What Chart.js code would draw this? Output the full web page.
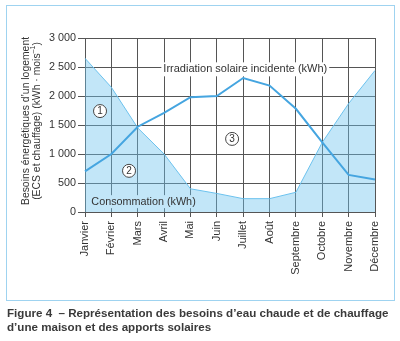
<!DOCTYPE html>
<html lang="fr">
<head>
<meta charset="utf-8">
<script src="https://cdn.jsdelivr.net/npm/chart.js@4"></script>
<style>
  body { margin: 0; background: #fff; }
  #wrap { position: relative; width: 400px; height: 341px; }
  #frame { position: absolute; left: 6px; top: 5px; width: 387px; height: 294px; border: 1px solid #9fd3f0; }
  #chart { position: absolute; left: 0; top: 0; }
  #caption {
    position: absolute; left: 7px; top: 306px; width: 393px;
    font: bold 11.6px "Liberation Sans", Arial, sans-serif; line-height: 14px; color: #3a3a3a;
  }
</style>
</head>
<body>
<div id="wrap">
  <div id="frame"></div>
  <canvas id="chart" width="400" height="341"></canvas>
  <div id="caption">Figure 4 &nbsp;– Représentation des besoins d’eau chaude et de chauffage<br>d’une maison et des apports solaires</div>
</div>
<script>
// Monthly data (kWh)
const months = ['Janvier', 'Février', 'Mars', 'Avril', 'Mai', 'Juin', 'Juillet', 'Août', 'Septembre', 'Octobre', 'Novembre', 'Décembre'];
const consommation = [2650, 2150, 1450, 1000, 400, 320, 230, 230, 340, 1200, 1870, 2440];
const irradiation = [700, 1000, 1470, 1710, 1980, 2000, 2310, 2180, 1780, 1200, 640, 560];
const yTicks = [0, 500, 1000, 1500, 2000, 2500, 3000];

const FONT = '"Liberation Sans", Arial, sans-serif';
const TEXT = '#333333';
const GRID = '#555555';
const FILL = 'rgba(110, 195, 238, 0.42)';

function formatThousands(v) {
    return String(v).replace(/\B(?=(\d{3})+(?!\d))/g, ' ');
}

// Labels, circled zone numbers and the y-axis title
const annotations = {
    id: 'annotations',
    beforeDatasetsDraw(chart) {
        const { ctx, scales: { x, y } } = chart;
        ctx.save();
        ctx.textBaseline = 'middle';
        ctx.textAlign = 'center';

        // solar irradiation label, white box over the grid
        ctx.font = '11px ' + FONT;
        const t1 = 'Irradiation solaire incidente (kWh)';
        const cx1 = x.getPixelForValue(6.08), cy1 = y.getPixelForValue(2460);
        const w1 = ctx.measureText(t1).width;
        ctx.fillStyle = '#ffffff';
        ctx.fillRect(cx1 - w1 / 2 - 2, cy1 - 7, w1 + 4, 14);
        ctx.fillStyle = TEXT;
        ctx.fillText(t1, cx1, cy1);

        // blank the grid behind the consumption label; the area fill goes over it
        ctx.font = '10.8px ' + FONT;
        const cx2 = x.getPixelForValue(2.22), cy2 = y.getPixelForValue(170);
        const w2 = ctx.measureText('Consommation (kWh)').width;
        ctx.fillStyle = '#ffffff';
        ctx.fillRect(cx2 - w2 / 2 - 2, cy2 - 7, w2 + 4, 13);
        ctx.restore();
    },
    afterDatasetsDraw(chart) {
        const { ctx, scales: { x, y } } = chart;
        ctx.save();
        ctx.textAlign = 'center';
        ctx.textBaseline = 'middle';

        ctx.font = '10.8px ' + FONT;
        ctx.fillStyle = TEXT;
        ctx.fillText('Consommation (kWh)', x.getPixelForValue(2.22), y.getPixelForValue(170));

        const zones = [['1', 0.57, 1740], ['2', 1.67, 710], ['3', 5.58, 1260]];
        ctx.font = '10px ' + FONT;
        zones.forEach(([n, xv, yv]) => {
            const px = x.getPixelForValue(xv), py = y.getPixelForValue(yv);
            ctx.beginPath();
            ctx.arc(px, py, 6.5, 0, Math.PI * 2);
            ctx.fillStyle = '#ffffff';
            ctx.fill();
            ctx.lineWidth = 1;
            ctx.strokeStyle = '#444';
            ctx.stroke();
            ctx.fillStyle = TEXT;
            ctx.fillText(n, px, py + 0.5);
        });

        // y-axis title, two rotated lines
        const midY = (y.top + y.bottom) / 2 - 4;
        ctx.translate(26, midY);
        ctx.rotate(-Math.PI / 2);
        ctx.font = '10.4px ' + FONT;
        ctx.fillStyle = TEXT;
        ctx.fillText('Besoins énergétiques d’un logement', 0, 0);
        const a = '(ECS et chauffage) (kWh · mois', sup = '–1', b = ')';
        const wa = ctx.measureText(a).width, wb = ctx.measureText(b).width;
        ctx.font = '7px ' + FONT;
        const ws = ctx.measureText(sup).width;
        const start = -(wa + ws + wb) / 2;
        ctx.textAlign = 'left';
        ctx.font = '10.4px ' + FONT;
        ctx.fillText(a, start, 11);
        ctx.font = '7px ' + FONT;
        ctx.fillText(sup, start + wa, 7);
        ctx.font = '10.4px ' + FONT;
        ctx.fillText(b, start + wa + ws, 11);
        ctx.restore();
    }
};

new Chart(document.getElementById('chart').getContext('2d'), {
    type: 'line',
    data: {
        labels: months,
        datasets: [{
            label: 'Irradiation solaire incidente (kWh)',
            data: irradiation,
            borderColor: '#45a5e0',
            borderWidth: 2,
            pointRadius: 0,
            tension: 0,
            fill: false,
            order: 1
        }, {
            label: 'Consommation (kWh)',
            data: consommation,
            borderColor: '#6cc2ee',
            borderWidth: 1,
            backgroundColor: FILL,
            pointRadius: 0,
            tension: 0,
            fill: 'origin',
            order: 2
        }]
    },
    options: {
        responsive: false,
        animation: false,
        layout: { padding: { left: 0, top: 38, right: 25, bottom: 0 } },
        plugins: {
            legend: { display: false },
            tooltip: { enabled: false }
        },
        scales: {
            x: {
                offset: false,
                grid: { color: GRID, lineWidth: 1, tickLength: 5, offset: false },
                border: { color: GRID },
                ticks: {
                    autoSkip: false,
                    minRotation: 90,
                    maxRotation: 90,
                    padding: 4,
                    color: TEXT,
                    font: { family: FONT, size: 11 }
                },
                afterFit: (scale) => { scale.height = 129; }
            },
            y: {
                min: 0,
                max: 3000,
                afterBuildTicks: (scale) => { scale.ticks = yTicks.map(v => ({ value: v })); },
                grid: { color: GRID, lineWidth: 1, tickLength: 7 },
                border: { color: GRID },
                ticks: {
                    padding: 2,
                    color: TEXT,
                    font: { family: FONT, size: 10.8 },
                    callback: (v) => formatThousands(v)
                },
                afterFit: (scale) => { scale.width = 85; }
            }
        }
    },
    plugins: [annotations]
});
</script>
</body>
</html>
